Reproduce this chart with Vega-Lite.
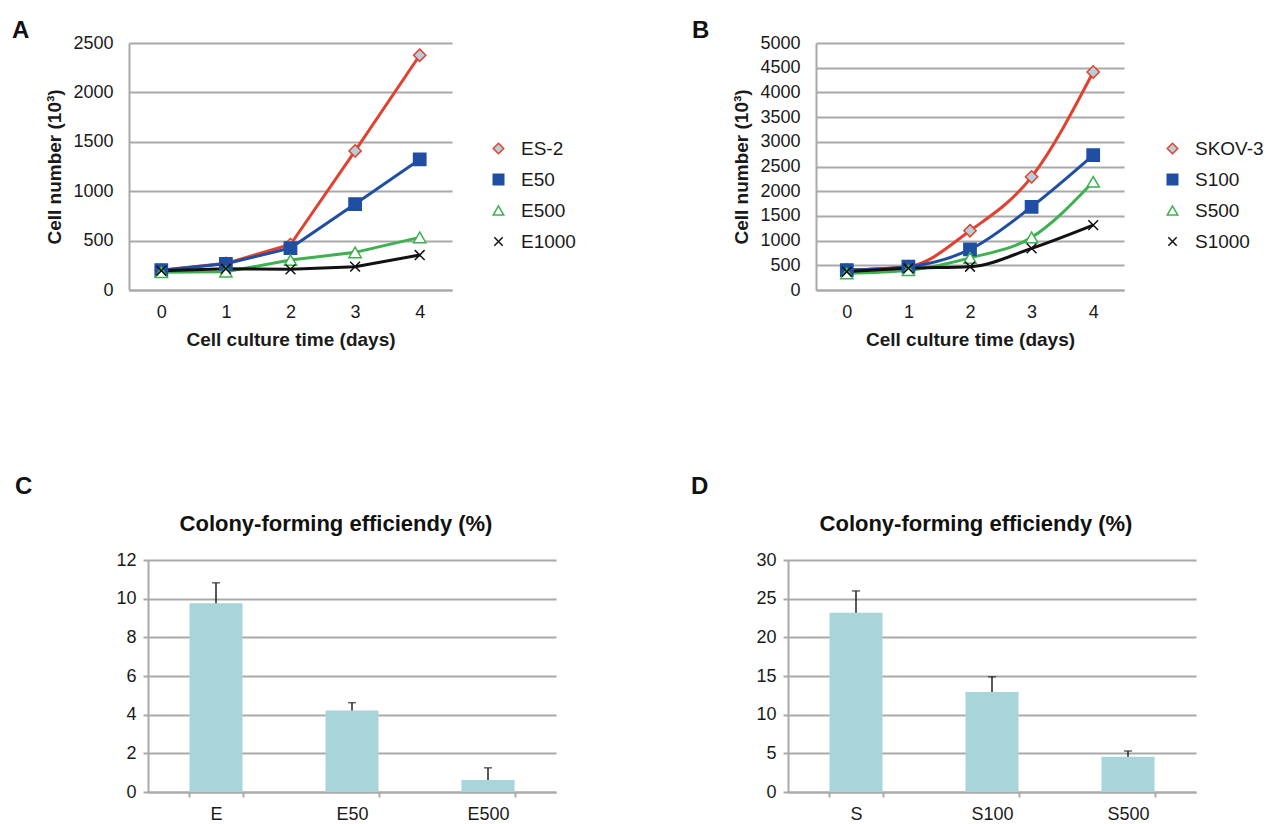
{
  "$schema": "https://vega.github.io/schema/vega-lite/v6.json",
  "background": "white",
  "padding": {"left": 12, "top": 19, "right": 0, "bottom": 0},
  "config": {
    "font": "Liberation Sans",
    "view": {"stroke": null},
    "axis": {"labelFont": "Liberation Sans", "titleFont": "Liberation Sans", "labelFontSize": 18, "labelColor": "#1a1a1a", "titleFontSize": 19, "titleFontWeight": "bold", "titleColor": "#1a1a1a", "gridColor": "#a9a9a9", "gridWidth": 2, "domainColor": "#a9a9a9", "domainWidth": 2, "tickColor": "#a9a9a9", "tickWidth": 2},
    "title": {"color": "#111111", "font": "Liberation Sans"},
    "legend": {"labelFont": "Liberation Sans"}
  },
  "datasets": {
    "growthA": [
      {"line": "ES-2", "day": 0, "cells": 200}, {"line": "ES-2", "day": 1, "cells": 270}, {"line": "ES-2", "day": 2, "cells": 460}, {"line": "ES-2", "day": 3, "cells": 1408}, {"line": "ES-2", "day": 4, "cells": 2376},
      {"line": "E50", "day": 0, "cells": 200}, {"line": "E50", "day": 1, "cells": 265}, {"line": "E50", "day": 2, "cells": 425}, {"line": "E50", "day": 3, "cells": 870}, {"line": "E50", "day": 4, "cells": 1321},
      {"line": "E500", "day": 0, "cells": 180}, {"line": "E500", "day": 1, "cells": 185}, {"line": "E500", "day": 2, "cells": 303}, {"line": "E500", "day": 3, "cells": 381}, {"line": "E500", "day": 4, "cells": 533},
      {"line": "E1000", "day": 0, "cells": 195}, {"line": "E1000", "day": 1, "cells": 215}, {"line": "E1000", "day": 2, "cells": 209}, {"line": "E1000", "day": 3, "cells": 236}, {"line": "E1000", "day": 4, "cells": 354}
    ],
    "growthB": [
      {"line": "SKOV-3", "day": 0, "cells": 404}, {"line": "SKOV-3", "day": 1, "cells": 472}, {"line": "SKOV-3", "day": 2, "cells": 1199}, {"line": "SKOV-3", "day": 3, "cells": 2291}, {"line": "SKOV-3", "day": 4, "cells": 4414},
      {"line": "S100", "day": 0, "cells": 404}, {"line": "S100", "day": 1, "cells": 472}, {"line": "S100", "day": 2, "cells": 822}, {"line": "S100", "day": 3, "cells": 1684}, {"line": "S100", "day": 4, "cells": 2729},
      {"line": "S500", "day": 0, "cells": 337}, {"line": "S500", "day": 1, "cells": 400}, {"line": "S500", "day": 2, "cells": 650}, {"line": "S500", "day": 3, "cells": 1065}, {"line": "S500", "day": 4, "cells": 2190},
      {"line": "S1000", "day": 0, "cells": 370}, {"line": "S1000", "day": 1, "cells": 440}, {"line": "S1000", "day": 2, "cells": 471}, {"line": "S1000", "day": 3, "cells": 843}, {"line": "S1000", "day": 4, "cells": 1314}
    ],
    "cfeC": [
      {"group": "E", "cfe": 9.76, "upper": 10.82},
      {"group": "E50", "cfe": 4.21, "upper": 4.62},
      {"group": "E500", "cfe": 0.62, "upper": 1.25}
    ],
    "cfeD": [
      {"group": "S", "cfe": 23.19, "upper": 26.0},
      {"group": "S100", "cfe": 12.94, "upper": 14.89},
      {"group": "S500", "cfe": 4.55, "upper": 5.3}
    ]
  },
  "spacing": 126,
  "vconcat": [
    {
      "bounds": "flush",
      "spacing": 364,
      "resolve": {"scale": {"stroke": "independent", "fill": "independent", "shape": "independent", "x": "independent", "y": "independent"}},
      "hconcat": [
        {
          "width": 323, "height": 247,
          "title": {"text": "A", "anchor": "start", "frame": "group", "dx": -117, "offset": -28, "baseline": "alphabetic", "fontSize": 24, "fontWeight": "bold"},
          "data": {"name": "growthA"},
          "encoding": {
            "x": {"field": "day", "type": "ordinal", "scale": {"type": "point", "padding": 0.5}, "axis": {"title": "Cell culture time (days)", "labelAngle": 0, "ticks": false, "tickSize": 0, "labelPadding": 13, "titlePadding": 9, "grid": false}},
            "y": {"field": "cells", "type": "quantitative", "scale": {"domain": [0, 2500], "nice": false}, "axis": {"title": "Cell number (10³)", "format": "d", "values": [0, 500, 1000, 1500, 2000, 2500], "grid": true, "ticks": false, "tickSize": 0, "labelPadding": 16, "titlePadding": 8}},
            "stroke": {"field": "line", "type": "nominal", "scale": {"domain": ["ES-2", "E50", "E500", "E1000"], "range": ["#e2412f", "#1f4ea3", "#3db14f", "#111111"]},
              "legend": {"title": null, "orient": "none", "legendX": 360, "legendY": 96, "padding": 0, "labelFontSize": 19, "labelColor": "#1a1a1a", "labelOffset": 13, "symbolSize": 110, "symbolStrokeWidth": 1.5, "rowPadding": 11}}
          },
          "layer": [
            {"mark": {"type": "line", "strokeWidth": 3}},
            {"mark": {"type": "point", "size": 150, "strokeWidth": 1.5, "opacity": 1},
              "encoding": {
                "shape": {"field": "line", "type": "nominal", "legend": null, "scale": {"domain": ["ES-2", "E50", "E500", "E1000"], "range": ["M0,-1L1,0L0,1L-1,0Z", "square", "triangle-up", "M-0.8,-0.8L0.8,0.8M-0.8,0.8L0.8,-0.8"]}},
                "fill": {"field": "line", "type": "nominal", "scale": {"domain": ["ES-2", "E50", "E500", "E1000"], "range": ["#b7cfda", "#1f4ea3", "#ffffff", "#111111"]},
                  "legend": {"title": null, "orient": "none", "legendX": 360, "legendY": 96, "padding": 0, "labelFontSize": 19, "labelColor": "#1a1a1a", "labelOffset": 13, "symbolSize": 110, "symbolStrokeWidth": 1.5, "rowPadding": 11}}
              }
            }
          ]
        },
        {
          "width": 308, "height": 247,
          "title": {"text": "B", "anchor": "start", "frame": "group", "dx": -124, "offset": -28, "baseline": "alphabetic", "fontSize": 24, "fontWeight": "bold"},
          "data": {"name": "growthB"},
          "encoding": {
            "x": {"field": "day", "type": "ordinal", "scale": {"type": "point", "padding": 0.5}, "axis": {"title": "Cell culture time (days)", "labelAngle": 0, "ticks": false, "tickSize": 0, "labelPadding": 13, "titlePadding": 9, "grid": false}},
            "y": {"field": "cells", "type": "quantitative", "scale": {"domain": [0, 5000], "nice": false}, "axis": {"title": "Cell number (10³)", "format": "d", "values": [0, 500, 1000, 1500, 2000, 2500, 3000, 3500, 4000, 4500, 5000], "grid": true, "ticks": false, "tickSize": 0, "labelPadding": 16, "titlePadding": 8}},
            "stroke": {"field": "line", "type": "nominal", "scale": {"domain": ["SKOV-3", "S100", "S500", "S1000"], "range": ["#e2412f", "#1f4ea3", "#3db14f", "#111111"]},
              "legend": {"title": null, "orient": "none", "legendX": 347, "legendY": 96, "padding": 0, "labelFontSize": 19, "labelColor": "#1a1a1a", "labelOffset": 13, "symbolSize": 110, "symbolStrokeWidth": 1.5, "rowPadding": 11}}
          },
          "layer": [
            {"mark": {"type": "line", "strokeWidth": 3, "interpolate": "monotone"}},
            {"mark": {"type": "point", "size": 150, "strokeWidth": 1.5, "opacity": 1},
              "encoding": {
                "shape": {"field": "line", "type": "nominal", "legend": null, "scale": {"domain": ["SKOV-3", "S100", "S500", "S1000"], "range": ["M0,-1L1,0L0,1L-1,0Z", "square", "triangle-up", "M-0.8,-0.8L0.8,0.8M-0.8,0.8L0.8,-0.8"]}},
                "fill": {"field": "line", "type": "nominal", "scale": {"domain": ["SKOV-3", "S100", "S500", "S1000"], "range": ["#b7cfda", "#1f4ea3", "#ffffff", "#111111"]},
                  "legend": {"title": null, "orient": "none", "legendX": 347, "legendY": 96, "padding": 0, "labelFontSize": 19, "labelColor": "#1a1a1a", "labelOffset": 13, "symbolSize": 110, "symbolStrokeWidth": 1.5, "rowPadding": 11}}
              }
            }
          ]
        }
      ]
    },
    {
      "spacing": 135,
      "resolve": {"scale": {"x": "independent", "y": "independent"}},
      "hconcat": [
        {
          "bounds": "flush",
          "title": {"text": "C", "anchor": "start", "frame": "group", "dx": -114, "offset": -5, "baseline": "alphabetic", "fontSize": 24, "fontWeight": "bold"},
          "vconcat": [
            {
              "width": 427, "height": 232,
              "title": {"text": "Colony-forming efficiendy (%)", "anchor": "middle", "frame": "bounds", "offset": -2, "baseline": "alphabetic", "fontSize": 22, "fontWeight": "bold"},
              "data": {"name": "cfeC"},
              "encoding": {
                "x": {"field": "group", "type": "nominal", "sort": null, "scale": {"range": [19, 427], "paddingInner": 0.61, "paddingOuter": 0.305}, "axis": {"title": null, "labelAngle": 0, "tickBand": "extent", "tickSize": 5, "labelPadding": 8, "grid": false}},
                "y": {"field": "cfe", "type": "quantitative", "scale": {"domain": [0, 12], "nice": false}, "axis": {"title": null, "offset": -19, "values": [0, 2, 4, 6, 8, 10, 12], "grid": true, "tickSize": 5, "labelPadding": 7}}
              },
              "layer": [
                {"mark": {"type": "bar", "color": "#a8d5da"}},
                {"mark": {"type": "rule", "color": "#222222", "strokeWidth": 1.5}, "encoding": {"y2": {"field": "upper"}}},
                {"mark": {"type": "tick", "color": "#222222", "thickness": 1.5, "size": 8},
                  "encoding": {"y": {"field": "upper", "type": "quantitative", "scale": {"domain": [0, 12], "nice": false}, "axis": {"title": null, "offset": -19, "values": [0, 2, 4, 6, 8, 10, 12], "grid": true, "tickSize": 5, "labelPadding": 7}}}}
              ]
            }
          ]
        },
        {
          "bounds": "flush",
          "title": {"text": "D", "anchor": "start", "frame": "group", "dx": -97, "offset": -5, "baseline": "alphabetic", "fontSize": 24, "fontWeight": "bold"},
          "vconcat": [
            {
              "width": 408, "height": 232,
              "title": {"text": "Colony-forming efficiendy (%)", "anchor": "middle", "frame": "bounds", "offset": -2, "baseline": "alphabetic", "fontSize": 22, "fontWeight": "bold"},
              "data": {"name": "cfeD"},
              "encoding": {
                "x": {"field": "group", "type": "nominal", "sort": null, "scale": {"paddingInner": 0.61, "paddingOuter": 0.305}, "axis": {"title": null, "labelAngle": 0, "tickBand": "extent", "tickSize": 5, "labelPadding": 8, "grid": false}},
                "y": {"field": "cfe", "type": "quantitative", "scale": {"domain": [0, 30], "nice": false}, "axis": {"title": null, "values": [0, 5, 10, 15, 20, 25, 30], "grid": true, "tickSize": 5, "labelPadding": 7}}
              },
              "layer": [
                {"mark": {"type": "bar", "color": "#a8d5da"}},
                {"mark": {"type": "rule", "color": "#222222", "strokeWidth": 1.5}, "encoding": {"y2": {"field": "upper"}}},
                {"mark": {"type": "tick", "color": "#222222", "thickness": 1.5, "size": 8},
                  "encoding": {"y": {"field": "upper", "type": "quantitative", "scale": {"domain": [0, 30], "nice": false}, "axis": {"title": null, "values": [0, 5, 10, 15, 20, 25, 30], "grid": true, "tickSize": 5, "labelPadding": 7}}}}
              ]
            }
          ]
        }
      ]
    }
  ]
}
